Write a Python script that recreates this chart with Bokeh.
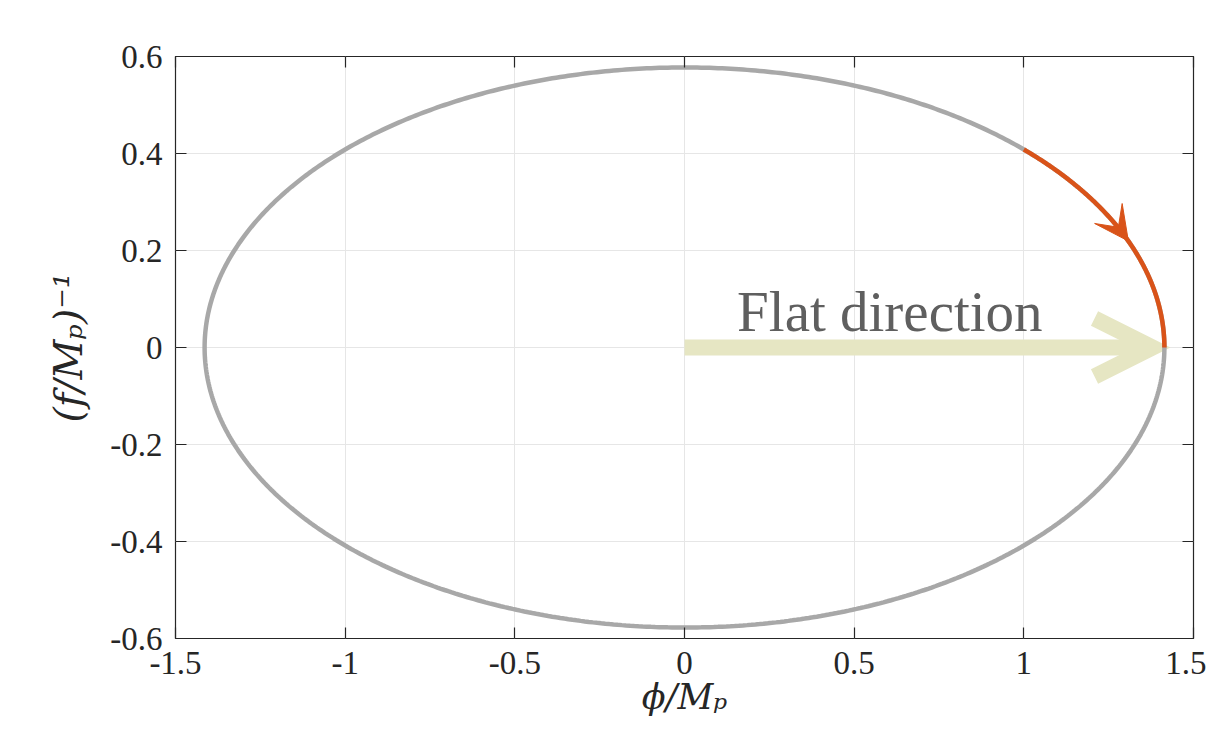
import numpy as np
from bokeh.plotting import figure
from bokeh.models import (Arrow, VeeHead, OpenHead, LinearAxis, FixedTicker, Range1d, Label)
from bokeh.embed import file_html
from bokeh.resources import INLINE

# ---- data ----
semi_x = np.sqrt(2.0)          # ellipse semi-axis along phi/Mp
semi_y = 1.0 / np.sqrt(3.0)    # ellipse semi-axis along (f/Mp)^-1
arc_x_start = 1.0              # orange trajectory starts at phi/Mp = 1
arc_x_end = semi_x             # ...and ends on the flat direction
arrow_tip_x = 1.308            # position of orange arrowhead
flat_label = "Flat direction"
flat_label_xy = (0.155, 0.074)

x_ticks = [-1.5, -1, -0.5, 0, 0.5, 1, 1.5]
x_tick_labels = ["-1.5", "-1", "-0.5", "0", "0.5", "1", "1.5"]
y_ticks = [-0.6, -0.4, -0.2, 0, 0.2, 0.4, 0.6]
y_tick_labels = ["-0.6", "-0.4", "-0.2", "0", "0.2", "0.4", "0.6"]
x_title = "ϕ/Mₚ"
y_title = "(f/Mₚ)⁻¹"

GRAY = "#a8a8a8"
ORANGE = "#d95319"
FLAT = "#e6e6c3"
AX = "#262626"
FONT = "Liberation Serif"
TFONT = "DejaVu Serif"

p = figure(width=1206, height=724, output_backend="svg", toolbar_location=None,
           x_range=Range1d(-1.5, 1.5), y_range=Range1d(-0.6, 0.6),
           min_border_left=175, min_border_right=13, min_border_top=56, min_border_bottom=86)
p.background_fill_color = "white"
p.border_fill_color = "white"
p.outline_line_color = AX
p.outline_line_width = 1.2

bottom = p.below[0]
left = p.left[0]

# grid
for g, t in ((p.xgrid, x_ticks), (p.ygrid, y_ticks)):
    g.ticker = FixedTicker(ticks=t)
    g.grid_line_color = "#e6e6e6"
    g.grid_line_width = 1

def style_axis(ax, ticks, labels, show_labels=True):
    ax.ticker = FixedTicker(ticks=ticks)
    if show_labels:
        ax.major_label_overrides = {t: l for t, l in zip(ticks, labels)}
    else:
        ax.major_label_overrides = {t: "" for t in ticks}
    ax.axis_line_color = None
    ax.major_tick_in = 11
    ax.major_tick_out = 0
    ax.major_tick_line_color = AX
    ax.major_tick_line_width = 1.2
    ax.minor_tick_line_color = None
    ax.major_label_text_font = FONT
    ax.major_label_text_font_size = "33px"
    ax.major_label_text_color = AX

style_axis(bottom, x_ticks, x_tick_labels)
style_axis(left, y_ticks, y_tick_labels)
bottom.major_label_standoff = 13
left.major_label_standoff = 13

top = LinearAxis()
right = LinearAxis()
style_axis(top, x_ticks, x_tick_labels, False)
style_axis(right, y_ticks, y_tick_labels, False)
top.major_label_standoff = 0
right.major_label_standoff = 0
p.add_layout(top, "above")
p.add_layout(right, "right")

bottom.axis_label = x_title
left.axis_label = y_title
for ax in (bottom, left):
    ax.axis_label_text_font = TFONT
    ax.axis_label_text_font_style = "italic"
    ax.axis_label_text_color = AX
bottom.axis_label_text_font_size = "35px"
left.axis_label_text_font_size = "39px"
bottom.axis_label_standoff = 0
left.axis_label_standoff = 16

# flat direction arrow
p.add_layout(Arrow(end=OpenHead(size=58, line_width=16, line_color=FLAT, line_join="miter"),
                   x_start=0, y_start=0, x_end=semi_x - 0.035, y_end=0,
                   line_width=16, line_color=FLAT, level="underlay"))

# ellipse
t = np.linspace(0, 2 * np.pi, 721)
p.line(semi_x * np.cos(t), semi_y * np.sin(t), line_color=GRAY, line_width=4.5)

# orange trajectory
t0 = np.arccos(arc_x_start / semi_x)
t1 = np.arccos(arc_x_end / semi_x)
ta = np.linspace(t0, t1, 200)
p.line(semi_x * np.cos(ta), semi_y * np.sin(ta), line_color=ORANGE, line_width=4.5)

tt = np.arccos(arrow_tip_x / semi_x)
tb = tt + 0.02
p.add_layout(Arrow(end=VeeHead(size=34, fill_color=ORANGE, line_color=ORANGE),
                   x_start=semi_x * np.cos(tb), y_start=semi_y * np.sin(tb),
                   x_end=semi_x * np.cos(tt), y_end=semi_y * np.sin(tt),
                   line_alpha=0))

p.add_layout(Label(x=flat_label_xy[0], y=flat_label_xy[1], text=flat_label,
                   text_font=FONT, text_font_size="57px", text_color="#5f5f5f",
                   text_baseline="alphabetic"))

open("out.html", "w").write(file_html(p, INLINE))
